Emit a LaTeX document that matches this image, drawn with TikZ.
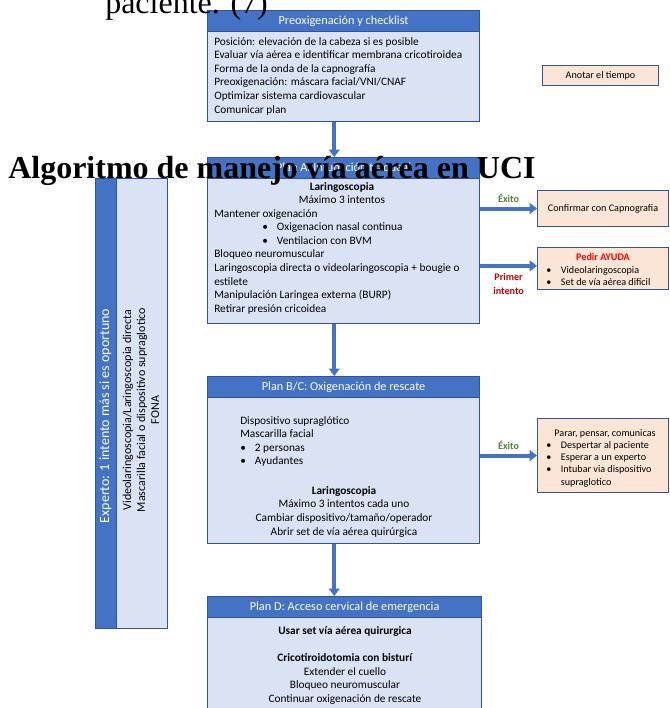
\documentclass[tikz,border=0pt]{standalone}
\usepackage{fontspec}
\setmainfont{Carlito}
\newfontfamily\serifdoc{Liberation Serif}
\usetikzlibrary{arrows.meta,positioning}

\definecolor{hdrblue}{HTML}{4472C4}
\definecolor{boxfill}{HTML}{DAE3F3}
\definecolor{edgeblue}{HTML}{2F5597}
\definecolor{peach}{HTML}{FBE5D6}
\definecolor{okgreen}{HTML}{548235}
\definecolor{darkred}{HTML}{C00000}
\newcommand{\pxu}{0.75pt}
\newcommand{\bul}{\makebox[11pt][l]{•}}

\tikzset{
  box/.style={draw=edgeblue, line width=0.9pt, fill=boxfill, anchor=north west, inner sep=0pt},
  hdr/.style={draw=edgeblue, line width=0.9pt, fill=hdrblue, text=white, anchor=north west, inner sep=0pt, minimum height=21*\pxu, font=\fontsize{9.2}{11}\selectfont},
  note/.style={draw=edgeblue, line width=0.8pt, fill=peach, anchor=north west, inner sep=0pt, font=\fontsize{7.6}{9.2}\selectfont},
  txt/.style={inner sep=0pt, anchor=north west, align=left, font=\fontsize{8.5}{10.2}\selectfont},
  ctxt/.style={inner sep=0pt, anchor=north, align=center, font=\fontsize{8.5}{10.2}\selectfont},
  small/.style={inner sep=0pt, align=left, font=\fontsize{7.6}{9.2}\selectfont},
  flow/.style={draw=hdrblue, line width=3pt, -{Triangle[length=5.5pt,width=8pt]}},
  tag/.style={inner sep=0pt, align=center, font=\bfseries\fontsize{7.6}{11}\selectfont}
}

\begin{document}
\begin{tikzpicture}[x=\pxu, y=-\pxu]
\useasboundingbox (0,0) rectangle (669,708);

% preoxigenacion
\node[box, minimum width=272*\pxu, minimum height=111*\pxu] (pre) at (207,10) {};
\node[hdr, minimum width=272*\pxu] (preh) at (pre.north west) {Preoxigenación y checklist};
\node[txt] (pretxt) at (214,37) {Posición: elevación de la cabeza si es posible\\Evaluar vía aérea e identificar membrana cricotiroidea\\Forma de la onda de la capnografía\\Preoxigenación: máscara facial/VNI/CNAF\\Optimizar sistema cardiovascular\\Comunicar plan};

\node[note, minimum width=116*\pxu, minimum height=20*\pxu] (anotar) at (542,65) {Anotar el tiempo};

% plan A
\node[box, minimum width=272*\pxu, minimum height=166*\pxu] (planA) at (207,157) {};
\node[hdr, minimum width=272*\pxu] (planAh) at (planA.north west) {Plan A: Intubación traqueal};
\node[ctxt] (planAt1) at (342,182) {\textbf{Laringoscopia}\\Máximo 3 intentos};
\node[txt] (planAt2) at (214,209) {Mantener oxigenación\\\hspace*{36pt}\bul Oxigenacion nasal continua\\\hspace*{36pt}\bul Ventilacion con BVM\\Bloqueo neuromuscular\\Laringoscopia directa o videolaringoscopia + bougie o\\estilete\\Manipulación Laringea externa (BURP)\\Retirar presión cricoidea};

\node[note, minimum width=131*\pxu, minimum height=36*\pxu] (confirmar) at (537,190) {Confirmar con Capnografia};
\node[note, minimum width=131*\pxu, minimum height=42*\pxu] (ayuda) at (537,247) {};
\node[small, anchor=north, text=red] (ayudat1) at (603,253) {\textbf{Pedir AYUDA}};
\node[small, anchor=north west] (ayudat2) at (546,266) {\bul Videolaringoscopia\\\bul Set de vía aérea dificil};

% experto
\node[box, minimum width=72*\pxu, minimum height=450*\pxu] (experto) at (95,178) {};
\node[box, fill=hdrblue, minimum width=21*\pxu, minimum height=450*\pxu] (expertoh) at (experto.north west) {};
\node[rotate=90, inner sep=0pt, text=white, font=\fontsize{10.5}{12}\selectfont] (expertot) at (105.5,416) {Experto: 1 intento más si es oportuno};
\node[rotate=90, inner sep=0pt, align=center, font=\fontsize{9}{10.5}\selectfont] (expertoopc) at (141,410) {Videolaringoscopia/Laringoscopia directa\\Mascarilla facial o dispositivo supraglotico\\FONA};

% plan B/C
\node[box, minimum width=272*\pxu, minimum height=167*\pxu] (planBC) at (207,376) {};
\node[hdr, minimum width=272*\pxu] (planBCh) at (planBC.north west) {Plan B/C: Oxigenación de rescate};
\node[txt] (planBCt1) at (240,416) {Dispositivo supraglótico\\Mascarilla facial\\\bul 2 personas\\\bul Ayudantes};
\node[ctxt] (planBCt2) at (344,486) {\textbf{Laringoscopia}\\Máximo 3 intentos cada uno\\Cambiar dispositivo/tamaño/operador\\Abrir set de vía aérea quirúrgica};

\node[note, minimum width=131*\pxu, minimum height=74*\pxu] (parar) at (537,418) {};
\node[small, anchor=north] (parart1) at (605,429) {Parar, pensar, comunicas};
\node[small, anchor=north west] (parart2) at (546,441) {\bul Despertar al paciente\\\bul Esperar a un experto\\\bul Intubar via dispositivo\\\hspace*{11pt}supraglotico};

% plan D
\node[box, minimum width=274*\pxu, minimum height=170*\pxu] (planD) at (207,596) {};
\node[hdr, minimum width=274*\pxu] (planDh) at (planD.north west) {Plan D: Acceso cervical de emergencia};
\node[ctxt] (planDt) at (345,626) {\textbf{Usar set vía aérea quirurgica}\\[10.2pt]\textbf{Cricotiroidotomia con bisturí}\\Extender el cuello\\Bloqueo neuromuscular\\Continuar oxigenación de rescate};

% flechas
\draw[flow] ([xshift=-7pt]pre.south) -- ([xshift=-7pt]pre.south |- planA.north);
\draw[flow] ([xshift=-7pt]planA.south) -- ([xshift=-7pt]planA.south |- planBC.north);
\draw[flow] ([xshift=-7pt]planBC.south) -- ([xshift=-7pt]planBC.south |- planD.north);
\draw[flow] (planA.east |- confirmar.west) -- (confirmar.west) node[midway, above=3pt, tag, text=okgreen] (exito1) {Éxito};
\draw[flow] ([yshift=2pt]planA.east |- ayuda.west) -- ([yshift=2pt]ayuda.west) node[midway, below=4pt, tag, text=darkred] (primer) {Primer\\intento};
\draw[flow] (planBC.east |- parar.west) -- (parar.west) node[midway, above=3pt, tag, text=okgreen] (exito2) {Éxito};

% texto del documento encima
\node[anchor=base west, inner sep=0pt, font=\serifdoc\fontsize{24}{28}\selectfont] (paciente) at (105,13) {paciente. (7)};
\node[anchor=base west, inner sep=0pt, font=\serifdoc\bfseries\fontsize{24}{28}\selectfont] (titulo) at (8,178) {Algoritmo de manejo vía aérea en UCI};
\end{tikzpicture}
\end{document}
